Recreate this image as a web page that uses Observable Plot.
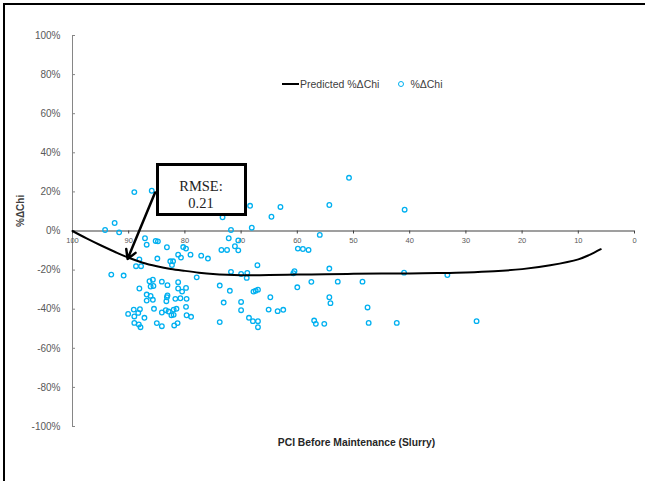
<!DOCTYPE html>
<html>
<head>
<meta charset="utf-8">
<script src="https://cdn.jsdelivr.net/npm/d3@7"></script>
<script src="https://cdn.jsdelivr.net/npm/@observablehq/plot@0.6"></script>
<style>
  html, body { margin: 0; padding: 0; background: #fff; overflow: hidden; }
  #wrap { position: relative; width: 645px; height: 481px; overflow: hidden; background: #fff; }
  #wrap svg { position: absolute; left: 0; top: 0; }
  .frame { position: absolute; left: 3px; top: 3px; width: 700px; height: 600px;
           border-top: 2.5px solid #000; border-left: 2.5px solid #000; box-sizing: border-box; pointer-events: none; }
  .legend { position: absolute; left: 282px; top: 76px; height: 16px; display: flex; align-items: center;
            font-family: "Liberation Sans", Arial, sans-serif; font-size: 10.5px; color: #404040; white-space: nowrap; }
  .legend .ln { width: 17px; height: 0; border-top: 2px solid #000; margin-right: 1px; }
  .legend .ci { width: 4px; height: 4px; border: 1.3px solid #00B0F0; border-radius: 50%; margin-left: 19px; margin-right: 6px; }
  .rmse { position: absolute; left: 155.5px; top: 162.5px; width: 91px; height: 53px; box-sizing: border-box;
          border: 3px solid #000; background: #fff; text-align: center;
          font-family: "Liberation Serif", "Times New Roman", serif; font-size: 14.5px; line-height: 17px; color: #222;
          padding-top: 12px; }
</style>
</head>
<body>
<div id="wrap"></div>
<script>
// ---- data ----
const pci = [94.2,92.5,91.7,89.0,85.9,93.1,90.9,87.1,86.8,85.2,84.8,83.2,88.1,84.9,88.7,87.8,82.6,82.1,82.3,81.2,
  80.7,80.3,79.8,79.0,77.1,75.9,77.9,88.1,86.3,85.7,86.1,85.6,84.1,83.1,86.8,86.1,86.8,85.7,83.1,83.2,
  83.3,81.7,80.8,81.2,81.2,80.5,79.8,79.7,89.1,88.0,90.1,88.3,87.2,85.5,89.0,89.0,88.2,87.9,85.0,84.1,
  84.1,83.4,82.9,82.4,82.0,82.0,81.5,81.9,81.3,79.8,79.7,78.9,73.5,72.5,73.3,72.2,71.8,71.1,70.5,70.5,
  68.4,68.1,71.8,70.0,68.9,69.0,67.1,73.8,72.0,73.1,70.0,70.0,67.8,67.4,67.0,73.8,68.6,67.9,67.0,67.0,
  64.8,65.1,63.5,62.5,64.6,63.0,60.7,60.5,60.0,59.9,59.0,58.0,57.5,57.0,56.7,55.2,56.0,54.3,50.8,54.3,
  52.8,54.3,54.1,48.4,47.5,47.3,42.3,40.9,41.0,33.3,28.1];
const chi = [0.5,4.1,-0.7,19.9,20.6,-22.3,-22.8,-3.7,-7.0,-5.1,-5.3,-8.3,-14.5,-14.1,-18.0,-18.0,-15.5,-15.5,-17.4,-12.1,
  -13.6,-8.2,-9.0,-12.1,-12.6,-14.1,-23.7,-29.4,-25.7,-24.9,-28.4,-28.1,-25.9,-27.7,-32.5,-33.2,-35.6,-35.2,-33.0,-33.9,
  -35.9,-34.7,-34.4,-26.2,-29.4,-31.0,-29.1,-34.7,-40.2,-40.0,-42.4,-41.9,-44.4,-39.8,-43.7,-47.0,-47.8,-49.2,-47.1,-48.7,
  -41.7,-40.5,-41.2,-43.1,-42.9,-40.2,-39.8,-48.3,-47.1,-38.8,-43.1,-43.9,-9.7,-9.7,7.0,-3.7,0.5,-7.8,-9.9,-4.8,
  12.9,1.7,-20.9,-22.0,-21.4,-24.0,-17.5,-27.9,-30.6,-36.6,-36.3,-40.5,-31.0,-30.6,-30.0,-46.6,-44.4,-46.1,-46.1,-49.2,
  -33.9,-40.2,-41.0,-40.3,7.3,12.3,-21.6,-20.6,-28.8,-9.0,-9.2,-9.7,-26.0,-45.8,-47.5,-47.5,-2.0,13.3,27.2,-19.2,
  -25.9,-33.9,-36.9,-25.9,-39.1,-47.0,-47.0,10.9,-21.3,-22.5,-46.1];
const predX = [100,97.5,95,92.5,90,87.5,85,82.5,80,77.5,75,72.5,70,67.5,65,60,55,50,45,40,35,30,25,20,15,10,8,6];
const predY = [0,-3.8,-7.3,-10.6,-13.7,-16.2,-18.0,-19.4,-20.4,-21.3,-22.0,-22.4,-22.6,-22.6,-22.5,-22.3,-22.1,-21.9,-21.8,-21.7,-21.5,-21.2,-20.6,-19.5,-17.5,-14.5,-12.2,-9.3];
const xTicks = [100,90,80,70,60,50,40,30,20,10,0];
const yTicks = [-100,-80,-60,-40,-20,0,20,40,60,80,100];
const seriesNames = ["Predicted %ΔChi", "%ΔChi"];
const xTitle = "PCI Before Maintenance (Slurry)";
const yTitle = "%ΔChi";
const rmseLines = ["RMSE:", "0.21"];
const arrowTail = {x: 85.3, y: 19.7};
const arrowTip = {x: 90.2, y: -14.3};

const points = pci.map((x, i) => ({x, y: chi[i]}));
const pred = predX.map((x, i) => ({x, y: predY[i]}));

const chart = Plot.plot({
  width: 645, height: 481,
  marginLeft: 72, marginRight: 11, marginTop: 35, marginBottom: 55,
  x: {domain: [100, 0], axis: null},
  y: {domain: [-100, 100]},
  style: {fontFamily: "'Liberation Sans', Arial, sans-serif", background: "transparent", color: "#595959"},
  marks: [
    Plot.ruleX([100], {stroke: "#868686", strokeWidth: 1}),
    Plot.ruleY(yTicks, {y: d => d, x1: 100, x2: 100, insetRight: -3, stroke: "#868686"}),
    Plot.axisY({ticks: yTicks, tickSize: 0, tickPadding: 12, tickFormat: d => d + "%", fontSize: 10, label: null}),
    Plot.ruleY([0], {stroke: "#404040", strokeWidth: 1.2}),
    Plot.ruleX(xTicks, {x: d => d, y1: 0, y2: 0, insetBottom: -3, stroke: "#404040"}),
    Plot.text(xTicks, {x: d => d, y: 0, dy: 10, text: d => String(d), fontSize: 7.5, fill: "#595959"}),
    Plot.dot(points, {x: "x", y: "y", r: 2.3, stroke: "#00B0F0", strokeWidth: 1.3, fill: "none"}),
    Plot.line(pred, {x: "x", y: "y", stroke: "#000", strokeWidth: 2, curve: "catmull-rom"}),
    Plot.arrow([0], {x1: () => arrowTail.x, y1: () => arrowTail.y, x2: () => arrowTip.x, y2: () => arrowTip.y,
      stroke: "#000", strokeWidth: 2.5, headLength: 6}),
    Plot.text([yTitle], {frameAnchor: "left", dx: -52, dy: -4, rotate: -90, fontWeight: "bold", fontSize: 10, fill: "#404040", lineAnchor: "middle"}),
    Plot.text([xTitle], {frameAnchor: "bottom", dx: 3, dy: 16, fontWeight: "bold", fontSize: 10.3, fill: "#262626", lineAnchor: "middle"})
  ]
});

const wrap = document.getElementById("wrap");
wrap.appendChild(chart);

const frame = document.createElement("div");
frame.className = "frame";
wrap.appendChild(frame);

const legend = document.createElement("div");
legend.className = "legend";
legend.innerHTML = `<span class="ln"></span><span>${seriesNames[0]}</span><span class="ci"></span><span>${seriesNames[1]}</span>`;
wrap.appendChild(legend);

const box = document.createElement("div");
box.className = "rmse";
box.innerHTML = rmseLines.map(t => `<div>${t}</div>`).join("");
wrap.appendChild(box);
</script>
</body>
</html>
